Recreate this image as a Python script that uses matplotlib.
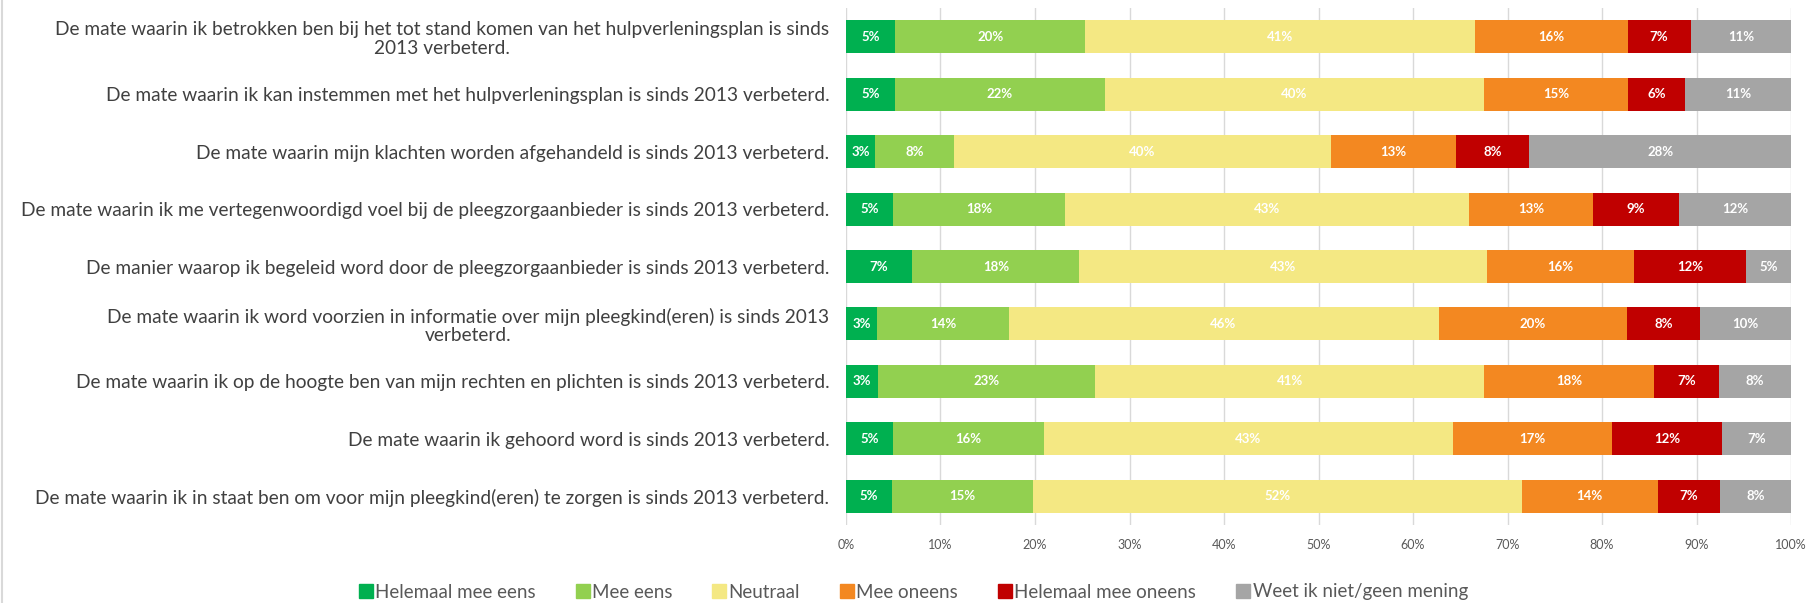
import numpy as np
import matplotlib.pyplot as plt
from matplotlib.lines import Line2D

categories = [
    "De mate waarin ik betrokken ben bij het tot stand komen van het hulpverleningsplan is sinds\n2013 verbeterd.",
    "De mate waarin ik kan instemmen met het hulpverleningsplan is sinds 2013 verbeterd.",
    "De mate waarin mijn klachten worden afgehandeld is sinds 2013 verbeterd.",
    "De mate waarin ik me vertegenwoordigd voel bij de pleegzorgaanbieder is sinds 2013 verbeterd.",
    "De manier waarop ik begeleid word door de pleegzorgaanbieder is sinds 2013 verbeterd.",
    "De mate waarin ik word voorzien in informatie over mijn pleegkind(eren) is sinds 2013\nverbeterd.",
    "De mate waarin ik op de hoogte ben van mijn rechten en plichten is sinds 2013 verbeterd.",
    "De mate waarin ik gehoord word is sinds 2013 verbeterd.",
    "De mate waarin ik in staat ben om voor mijn pleegkind(eren) te zorgen is sinds 2013 verbeterd.",
]

series_names = ["Helemaal mee eens", "Mee eens", "Neutraal", "Mee oneens",
                "Helemaal mee oneens", "Weet ik niet/geen mening"]

helemaal_eens = [5.2, 5.2, 3.1, 5.0, 7.0, 3.3, 3.4, 5.0, 4.9]
mee_eens = [20.1, 22.2, 8.3, 18.2, 17.7, 13.9, 23.0, 15.9, 14.9]
neutraal = [41.3, 40.1, 39.9, 42.7, 43.1, 45.5, 41.1, 43.3, 51.7]
mee_oneens = [16.1, 15.3, 13.2, 13.2, 15.6, 19.9, 18.0, 16.9, 14.4]
helemaal_oneens = [6.7, 6.0, 7.8, 9.0, 11.8, 7.8, 6.9, 11.6, 6.6]
weet_niet = [10.6, 11.2, 27.7, 11.9, 4.8, 9.6, 7.6, 7.3, 7.5]

colors = ["#00b050", "#92d050", "#f4e883", "#f38821", "#c00000", "#a5a5a5"]

plt.rcParams['font.family'] = ['Lato', 'DejaVu Sans']

fig = plt.figure(figsize=(18.08, 6.03), dpi=100)
ax = fig.add_axes([846 / 1808, 1 - 525 / 603, 945 / 1808, 517 / 603])

data = [helemaal_eens, mee_eens, neutraal, mee_oneens, helemaal_oneens, weet_niet]
y = np.arange(len(categories))
left = np.zeros(len(categories))
for vals, name, col in zip(data, series_names, colors):
    vals = np.array(vals)
    ax.barh(y, vals, left=left, height=0.575, color=col, label=name, zorder=3)
    for yi, l, v in zip(y, left, vals):
        ax.text(l + v / 2, yi, f"{v:.0f}%", ha="center", va="center",
                color="white", fontsize=9.5, fontweight="bold", zorder=4)
    left += vals

ax.set_xlim(0, 100)
ax.set_ylim(len(categories) - 0.5, -0.5)
ax.set_yticks(y)
ax.set_yticklabels(categories, fontsize=13.8, color="#404040", multialignment="center",
                   linespacing=1.1)
ax.set_xticks(np.arange(0, 101, 10))
ax.set_xticklabels([f"{t}%" for t in range(0, 101, 10)], fontsize=9, color="#595959")
ax.tick_params(axis="y", length=0, pad=12)
ax.tick_params(axis="x", length=0, pad=10)
ax.grid(axis="x", color="#d9d9d9", linewidth=1, zorder=0)
for s in ax.spines.values():
    s.set_visible(False)

handles = [Line2D([], [], marker="s", linestyle="none", markersize=10,
                  markerfacecolor=c, markeredgecolor=c) for c in colors]
leg = fig.legend(handles, series_names, loc="center", bbox_to_anchor=(0.505, 1 - 592 / 603),
                 ncol=6, frameon=False, fontsize=13.5, handletextpad=0.1, columnspacing=2.1,
                 handlelength=0.8)
for t in leg.get_texts():
    t.set_color("#595959")

fig.add_artist(Line2D([2.5 / 1808, 2.5 / 1808], [0, 1], color="#d9d9d9", linewidth=1.5))

plt.savefig("out.png", dpi=100)
plt.close()
